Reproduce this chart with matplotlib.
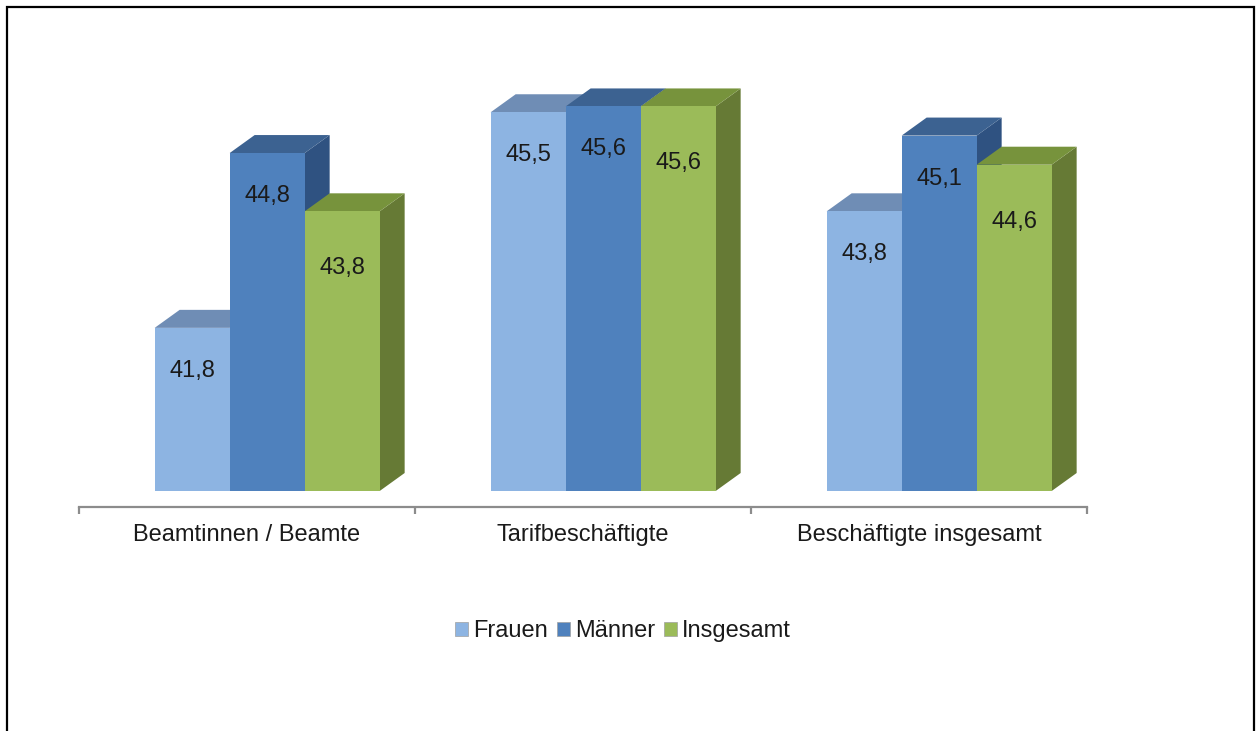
import matplotlib.pyplot as plt
from matplotlib.patches import Rectangle

plt.rcParams['font.family'] = ['Liberation Sans', 'DejaVu Sans']

categories = ["Beamtinnen / Beamte", "Tarifbeschäftigte", "Beschäftigte insgesamt"]
series = ["Frauen", "Männer", "Insgesamt"]
frauen = [41.8, 45.5, 43.8]
maenner = [44.8, 45.6, 45.1]
insgesamt = [43.8, 45.6, 44.6]
values = [frauen, maenner, insgesamt]

# front, top, side colours per series
front = ["#8DB4E2", "#4F81BD", "#9BBB59"]
top = ["#6F8DB5", "#3C6291", "#77933C"]
side = ["#5F7FA8", "#2F5281", "#667A35"]
label_drop = [-31, -31, -41]  # points below bar top

y_min = 39.0
bar_w = 0.2232
shift = 0.06
dx = 0.0744
dy = 0.309
fs = 17

fig = plt.figure(figsize=(12.6, 7.31), dpi=100)
ax = fig.add_axes([79 / 1260, 1 - 507 / 731, 1008 / 1260, 453 / 731])
ax.set_xlim(-0.5, 2.5)
ax.set_ylim(y_min - 16 / 58.3, 46.5)

for i in range(len(categories)):
    for s in range(len(series)):
        v = values[s][i]
        x0 = i + shift + (s - 1.5) * bar_w
        x1 = x0 + bar_w
        z = 2 + s
        ax.fill([x1, x1 + dx, x1 + dx, x1], [y_min, y_min + dy, v + dy, v],
                color=side[s], lw=0, zorder=z)
        ax.fill([x0, x1, x1 + dx, x0 + dx], [v, v, v + dy, v + dy],
                color=top[s], lw=0, zorder=z)
        ax.fill([x0, x1, x1, x0], [y_min, y_min, v, v],
                color=front[s], lw=0, zorder=z)
        ax.annotate(f"{v:.1f}".replace(".", ","), (x0 + bar_w / 2, v),
                    xytext=(0, label_drop[s]), textcoords="offset points",
                    ha="center", va="center", fontsize=fs, color="#1a1a1a",
                    zorder=10)

for sp in ["top", "left", "right"]:
    ax.spines[sp].set_visible(False)
ax.spines["bottom"].set_color("#8C8C8C")
ax.spines["bottom"].set_linewidth(1.6)
ax.set_yticks([])
ax.set_xticks(range(len(categories)))
ax.set_xticklabels(categories, fontsize=fs, color="#1a1a1a")
ax.tick_params(axis="x", which="major", length=0, pad=12)
ax.set_xticks([-0.5, 0.5, 1.5, 2.5], minor=True)
ax.tick_params(axis="x", which="minor", length=5, width=1.6, color="#8C8C8C")

handles = [Rectangle((0, 0), 1, 1, facecolor=front[s], edgecolor="#A0A0A0", lw=0.5)
           for s in range(len(series))]
fig.legend(handles, series, loc="center", bbox_to_anchor=(623 / 1260, 1 - 631 / 731),
           ncol=3, frameon=False, fontsize=fs, handlelength=0.55, handleheight=0.55,
           handletextpad=0.2, columnspacing=0.4, labelcolor="#1a1a1a")

fig.patches.append(Rectangle((7 / 1260, -0.01), 1247 / 1260, 1 - 7 / 731 + 0.01,
                             transform=fig.transFigure, fill=False,
                             edgecolor="black", lw=1.6, figure=fig))

fig.savefig("out.png", dpi=100, facecolor="white")
